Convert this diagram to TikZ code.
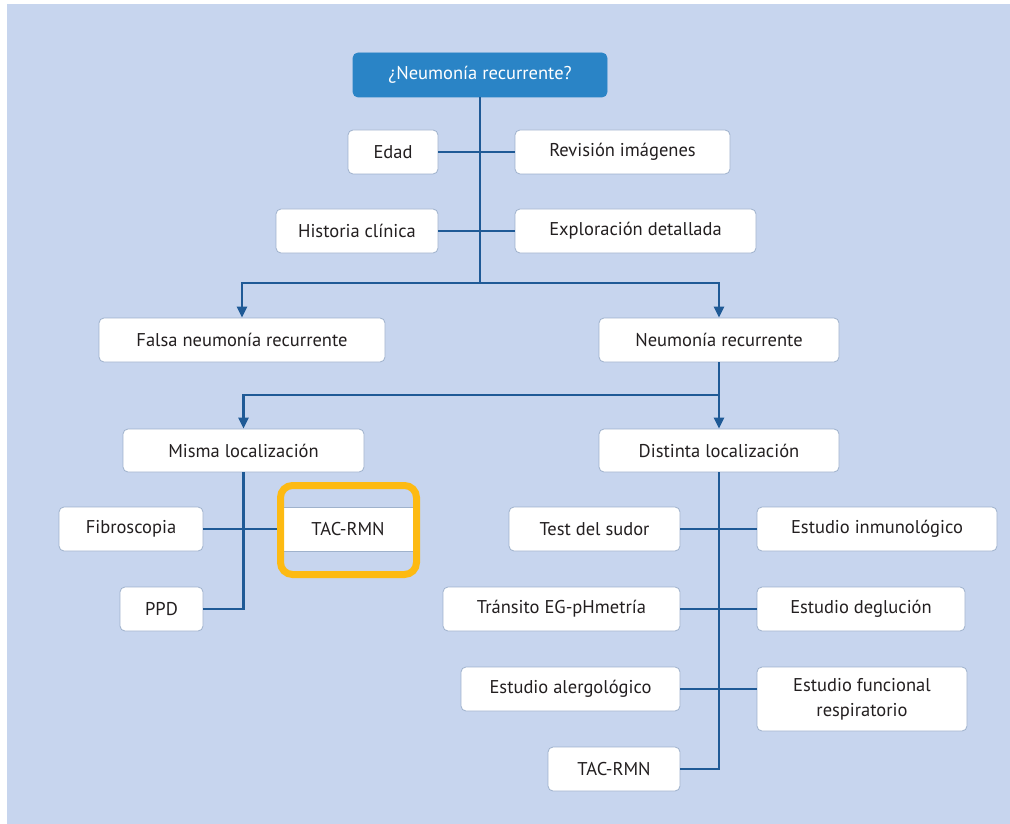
\documentclass[tikz,border=0pt]{standalone}
\usepackage{fontspec}
\setmainfont{PT Sans}
\usetikzlibrary{arrows.meta}
\definecolor{bgblue}{HTML}{C7D5EE}
\definecolor{topblue}{HTML}{2A84C6}
\definecolor{linkblue}{HTML}{1F5A96}
\definecolor{boxedge}{HTML}{9FB2CC}
\definecolor{txt}{HTML}{231F20}
\definecolor{hlorange}{HTML}{FDBA12}
\tikzset{
  box/.style={draw=boxedge, line width=0.8pt, fill=white, rounded corners=5pt,
    minimum height=44pt, inner sep=0pt, text=txt, font=\fontsize{18.5}{20}\selectfont, align=center},
  topbox/.style={box, fill=topblue, draw=topblue, text=white},
  link/.style={draw=linkblue, line width=2.4pt},
  arr/.style={link, -{Triangle[length=11pt,width=10pt]}},
  hl/.style={draw=hlorange, line width=7pt, rounded corners=12pt, minimum width=136pt, minimum height=89pt, inner sep=0pt}
}
\begin{document}
\begin{tikzpicture}[x=1pt,y=-1pt]
\useasboundingbox[fill=white] (0,0) rectangle (1010,824);
\fill[bgblue] (7,4) rectangle (1010,824);

\node[topbox, minimum width=254pt] (top) at (480,75) {¿Neumonía recurrente?};
\node[box, minimum width=90pt] (edad) at (393,152) {Edad};
\node[box, minimum width=215pt] (revision) at (622.5,152) {Revisión imágenes};
\node[box, minimum width=162pt] (historia) at (357,231) {Historia clínica};
\node[box, minimum width=241pt] (exploracion) at (635.5,231) {Exploración detallada};
\node[box, minimum width=286pt] (falsa) at (242,340) {Falsa neumonía recurrente};
\node[box, minimum width=240pt] (neumonia) at (719,340) {Neumonía recurrente};
\node[box, minimum width=241pt, minimum height=43pt] (misma) at (243.5,450.5) {Misma localización};
\node[box, minimum width=240pt, minimum height=43pt] (distinta) at (719,450.5) {Distinta localización};
\node[box, minimum width=144pt] (fibro) at (131,529) {Fibroscopia};
\node[box, minimum width=132pt, rounded corners=0pt] (tac1) at (348,529) {TAC-RMN};
\node[box, minimum width=83pt] (ppd) at (161.5,609) {PPD};
\node[box, minimum width=171pt] (sudor) at (594.5,529) {Test del sudor};
\node[box, minimum width=240pt] (inmuno) at (877,529) {Estudio inmunológico};
\node[box, minimum width=237pt] (transito) at (561.5,609) {Tránsito EG-pHmetría};
\node[box, minimum width=208pt] (deglucion) at (861,609) {Estudio deglución};
\node[box, minimum width=219pt] (alergo) at (570.5,689) {Estudio alergológico};
\node[box, minimum width=210pt, minimum height=64pt, font=\fontsize{18.5}{25}\selectfont] (funcional) at (862,699) {Estudio funcional\\respiratorio};
\node[box, minimum width=132pt] (tac2) at (614,769) {TAC-RMN};
\node[hl] (frame) at (348.5,530) {};

\coordinate (j1) at (top.south |- 0,283);
\coordinate (j2) at (neumonia.south |- 0,395);

\draw[link] (top.south) -- (j1);
\draw[link] (edad.east) -- (revision.west);
\draw[link] (historia.east) -- (exploracion.west);
\draw[arr] (j1) -| (falsa.north);
\draw[arr] (j1) -| (neumonia.north);
\draw[arr] (neumonia.south) -- (distinta.north);
\draw[arr] (j2) -| (misma.north);
\draw[link] (misma.south) |- (ppd.east);
\draw[link] (fibro.east) -- (fibro.east -| frame.west);
\draw[link] (distinta.south) |- (tac2.east);
\draw[link] (sudor.east) -- (inmuno.west);
\draw[link] (transito.east) -- (deglucion.west);
\draw[link] (alergo.east) -- (alergo.east -| funcional.west);
\end{tikzpicture}
\end{document}
